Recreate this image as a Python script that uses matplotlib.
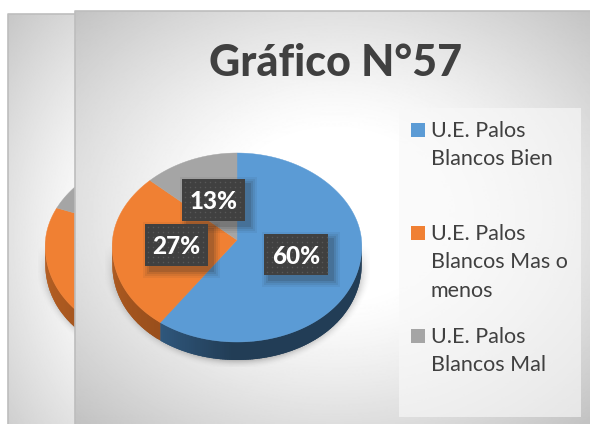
"""Grafico N 57: 3D-look pie with a second chart peeking out behind it."""
import numpy as np
import matplotlib
matplotlib.use("Agg")
import matplotlib.pyplot as plt
from matplotlib.patches import Rectangle

plt.rcParams["font.family"] = ["Lato", "DejaVu Sans"]

title = "Gráfico N°57"
labels = ["U.E. Palos\nBlancos Bien", "U.E. Palos\nBlancos Mas o\nmenos", "U.E. Palos\nBlancos Mal"]
values = [60, 27, 13]
pct_labels = ["60%", "27%", "13%"]
back_values = [55, 26, 19]   # chart behind, blue part is hidden so only a guess

top_colors = ["#5B9BD5", "#F08033", "#A5A5A5"]
side_dark = ["#223D56", "#9A4F1C", "#6E6E6E"]
side_light = ["#30597F", "#B25D22", "#808080"]

TXT = "#404040"
RX, RY_UP, RY_DN, DEPTH = 124.5, 87, 102, 18


def rim(theta, cx, cy):
    """theta in radians, clockwise from 12 o'clock; egg shaped for the perspective."""
    ry = np.where(np.cos(theta) > 0, RY_UP, RY_DN)
    return cx + RX * np.sin(theta) * (1 - 0.06 * np.cos(theta)), cy - ry * np.cos(theta)


def panel(ax, x0, x1, y0, y1, cx, cy, sx, sy, lo, z):
    xx, yy = np.meshgrid(np.arange(x0, x1 + 1), np.arange(y0, y1 + 1))
    t = np.sqrt(((xx - cx) / sx) ** 2 + ((yy - cy) / sy) ** 2) / np.sqrt(2)
    v = 1 - (1 - lo) * np.clip((t - 0.28) / 0.72, 0, 1) ** 1.25
    ax.imshow(v, cmap="gray", vmin=0, vmax=1, extent=(x0, x1, y1, y0), aspect="auto", zorder=z)
    ax.plot([x0, x0, x1], [y1, y0, y0], color="#bdbdbd", lw=1.2, zorder=z + 0.01)


def shadow(ax, cx, cy, z):
    xx, yy = np.meshgrid(np.arange(cx - 132, cx + 133), np.arange(cy + 5, cy + 127))
    d = np.sqrt(((xx - cx) / (RX + 1)) ** 2 + ((yy - cy - DEPTH) / RY_DN) ** 2)
    a = np.clip((1.09 - d) / 0.09, 0, 1) ** 2 * 0.38
    a *= np.clip((yy - cy - 5) / 45, 0, 1)
    rgba = np.zeros(a.shape + (4,))
    rgba[..., :3] = 0.4
    rgba[..., 3] = a
    ax.imshow(rgba, extent=(cx - 132, cx + 133, cy + 127, cy + 5), aspect="auto", zorder=z)


def pie3d(ax, vals, cx, cy, z):
    shadow(ax, cx, cy, z)
    edges = np.radians(np.cumsum([0] + list(vals)) * 360.0 / sum(vals))
    # side wall first, only the front half shows
    for i in range(len(vals)):
        a0, a1 = max(edges[i], np.pi / 2), min(edges[i + 1], 3 * np.pi / 2)
        if a1 <= a0:
            continue
        steps = np.linspace(a0, a1, max(int(np.degrees(a1 - a0)), 2) + 1)
        dark, light = [np.array(matplotlib.colors.to_rgb(c)) for c in (side_dark[i], side_light[i])]
        # from the far end back, each quad runs over the next so no seams show
        for s0 in steps[:-1][::-1]:
            x, y = rim(np.array([s0, min(s0 + 0.04, a1)]), cx, cy)
            col = dark
            if i == 0 and s0 > np.pi:
                col = dark + (light - dark) * np.clip((s0 - np.pi) / (edges[1] - np.pi), 0, 1)
            if i == 1:
                col = light + (dark - light) * np.clip((edges[1] + 0.9 - s0) / 0.9, 0, 1)
            ax.fill([x[0], x[1], x[1], x[0]], [y[0], y[1], y[1] + DEPTH, y[0] + DEPTH],
                    color=col, lw=0, zorder=z + 0.1)
    for i in range(len(vals)):
        th = np.linspace(edges[i], edges[i + 1], 200)
        x, y = rim(th, cx, cy)
        ax.fill(np.r_[cx, x], np.r_[cy, y], color=top_colors[i], lw=0.3, zorder=z + 0.2)


def pct_box(ax, x0, y0, x1, y1, txt):
    for k, a in zip((7, 5, 3, 1), (0.06, 0.08, 0.10, 0.14)):
        ax.add_patch(Rectangle((x0 + 5 - k, y0 + 5 - k), x1 - x0 + 2 * k, y1 - y0 + 2 * k,
                               fc="#222222", ec="none", alpha=a, zorder=6))
    ax.add_patch(Rectangle((x0, y0), x1 - x0, y1 - y0, fc="#404040", ec="none", zorder=6.1))
    gx, gy = np.meshgrid(np.arange(x0 + 3, x1, 5), np.arange(y0 + 3, y1, 5))
    ax.scatter(gx.ravel(), gy.ravel(), s=1.2, color="#575757", lw=0, zorder=6.2)
    ax.text((x0 + x1) / 2, (y0 + y1) / 2 + 1.5, txt, color="white", fontsize=17.5, weight="black",
            ha="center", va="center", zorder=6.3)


fig = plt.figure(figsize=(5.9, 4.24), dpi=100)
ax = fig.add_axes([0, 0, 1, 1])

panel(ax, 8, 90, 14, 424, 165, 240, 160, 230, 0.77, 1)
pie3d(ax, back_values, 170, 240, 1.5)
panel(ax, 75, 590, 11, 424, 335, 215, 262, 205, 0.76, 3)
pie3d(ax, values, 237, 240, 3.5)

ax.text(335.5, 63, title, color=TXT, fontsize=31, weight="black", ha="center", va="center", zorder=5)

# legend panel + entries
ax.add_patch(Rectangle((399, 108), 182, 309, fc="#f8f8f8", ec="none", alpha=0.65, zorder=5))
for lab, col, y in zip(labels, top_colors, (123, 226, 329)):
    ax.add_patch(Rectangle((411, y), 14, 14, fc=col, ec="none", zorder=5.1))
    ax.text(431, y - 2, lab, color=TXT, fontsize=15.5, ha="left", va="top", linespacing=1.53, zorder=5.1)

pct_box(ax, 264, 234, 328, 275, pct_labels[0])
pct_box(ax, 145, 224, 208, 266, pct_labels[1])
pct_box(ax, 182, 179, 245, 221, pct_labels[2])

ax.set_xlim(0, 590)
ax.set_ylim(424, 0)
ax.axis("off")
fig.savefig("out.png", dpi=100, facecolor="white")
